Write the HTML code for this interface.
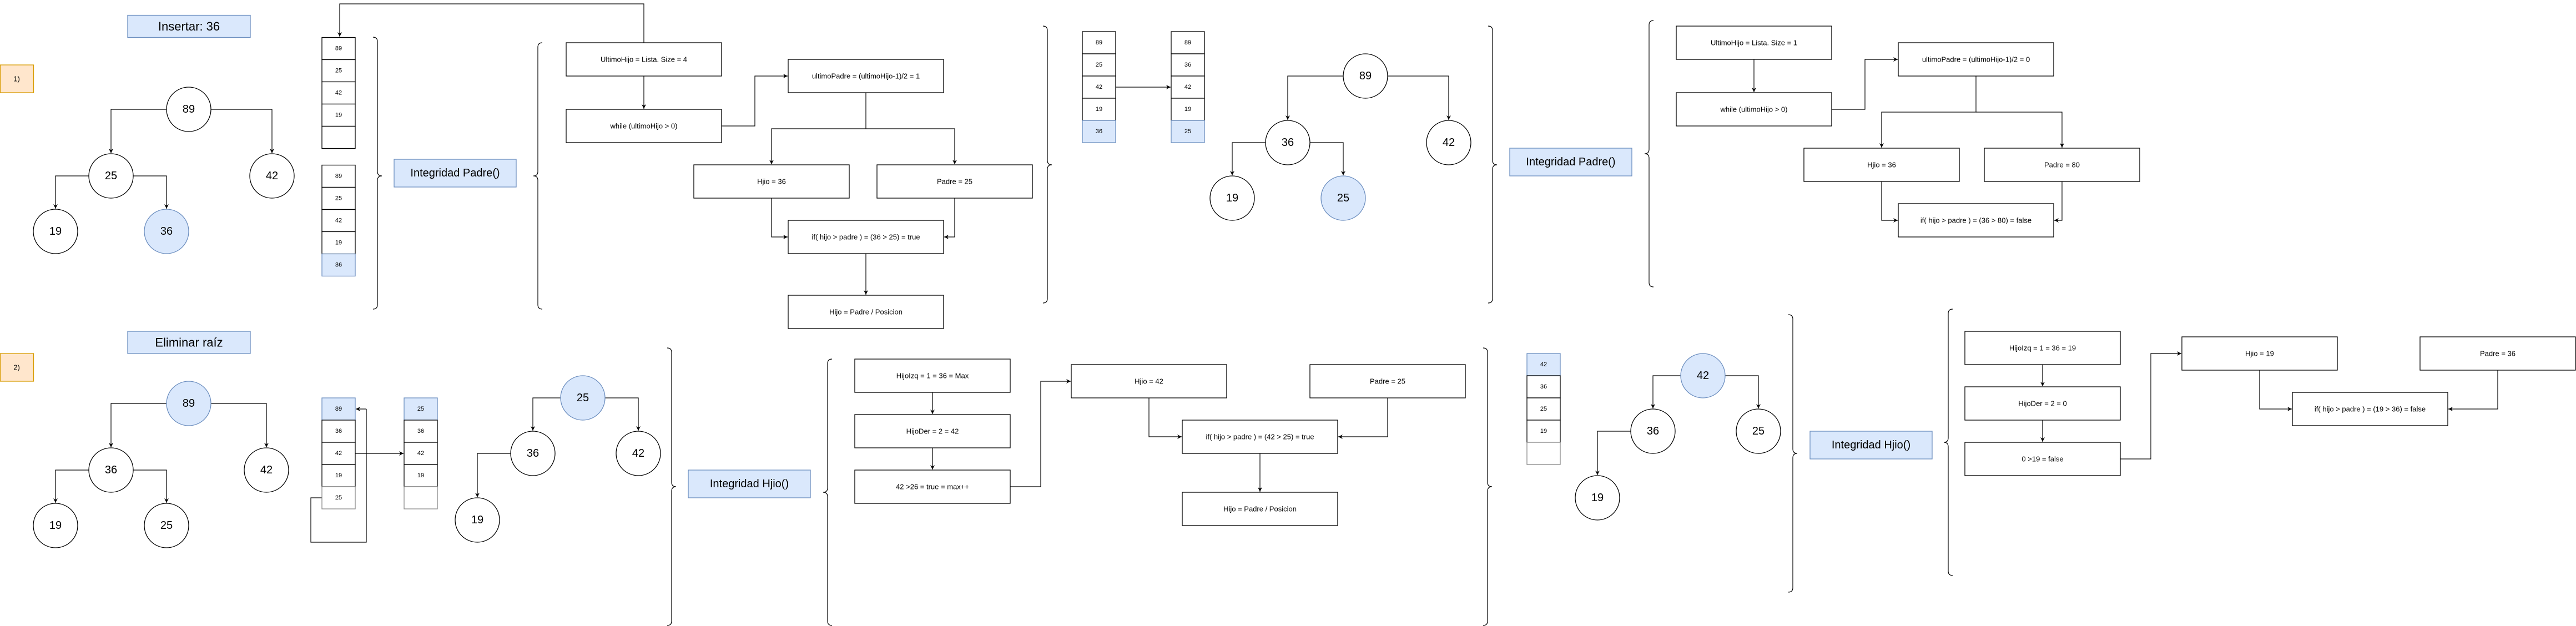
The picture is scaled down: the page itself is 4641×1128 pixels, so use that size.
<!DOCTYPE html>
<html><head><meta charset="utf-8"><style>
html,body{margin:0;padding:0;background:#fff;}
svg{display:block;font-family:"Liberation Sans",Arial,sans-serif;}
.b{fill:#fff;stroke:#000;stroke-width:1.3}
.bl{fill:#dae8fc;stroke:#6c8ebf;stroke-width:1.3}
.or{fill:#ffe6cc;stroke:#d79b00;stroke-width:1.3}
.gy{fill:#fff;stroke:#888;stroke-width:1.3}
.e{fill:none;stroke:#000;stroke-width:1.2}
.a{fill:none;stroke:#000;stroke-width:1.2;marker-end:url(#ar)}
.br{fill:none;stroke:#000;stroke-width:1.2}
text{text-anchor:middle;dominant-baseline:central;fill:#000}
.t13{font-size:13px}.t11{font-size:11px}.t20{font-size:20px}.t22{font-size:22px}
</style></head><body>
<svg width="4641" height="1128" viewBox="0 0 4641 1128" xmlns="http://www.w3.org/2000/svg">
<defs><marker id="ar" markerWidth="10" markerHeight="10" refX="8" refY="4" orient="auto" markerUnits="userSpaceOnUse"><path d="M0,0 L8,4 L0,8 L2.5,4 Z" fill="#000"/></marker></defs>

<!-- ===== TOP ===== -->
<rect class="bl" x="230" y="27.5" width="221" height="40"/><text class="t22" x="340.5" y="47.5">Insertar: 36</text>
<rect class="or" x="0.5" y="117" width="60" height="50"/><text class="t13" x="30" y="142">1)</text>

<path class="a" d="M300,197 H200 V276"/><path class="a" d="M380,197 H490 V276"/>
<path class="a" d="M160,317 H100 V376"/><path class="a" d="M240,317 H300 V376"/>
<circle class="b" cx="340" cy="197" r="40"/><text class="t20" x="340" y="197">89</text>
<circle class="b" cx="200" cy="317" r="40"/><text class="t20" x="200" y="317">25</text>
<circle class="b" cx="490" cy="317" r="40"/><text class="t20" x="490" y="317">42</text>
<circle class="b" cx="100" cy="417" r="40"/><text class="t20" x="100" y="417">19</text>
<circle class="bl" cx="300" cy="417" r="40"/><text class="t20" x="300" y="417">36</text>

<!-- array1 -->
<g>
<rect class="b" x="580" y="67.5" width="60" height="40"/><text class="t11" x="610" y="87.5">89</text>
<rect class="b" x="580" y="107.5" width="60" height="40"/><text class="t11" x="610" y="127.5">25</text>
<rect class="b" x="580" y="147.5" width="60" height="40"/><text class="t11" x="610" y="167.5">42</text>
<rect class="b" x="580" y="187.5" width="60" height="40"/><text class="t11" x="610" y="207.5">19</text>
<rect class="b" x="580" y="227.5" width="60" height="40"/>
</g>
<g>
<rect class="b" x="580" y="297.5" width="60" height="40"/><text class="t11" x="610" y="317.5">89</text>
<rect class="b" x="580" y="337.5" width="60" height="40"/><text class="t11" x="610" y="357.5">25</text>
<rect class="b" x="580" y="377.5" width="60" height="40"/><text class="t11" x="610" y="397.5">42</text>
<rect class="b" x="580" y="417.5" width="60" height="40"/><text class="t11" x="610" y="437.5">19</text>
<rect class="bl" x="580" y="457.5" width="60" height="40"/><text class="t11" x="610" y="477.5">36</text>
</g>
<path class="a" d="M1160,77 V7 H612 V66"/>

<path class="br" d="M672,67 Q680,67 680,75 L680,309 Q680,317 688,317 Q680,317 680,325 L680,549 Q680,557 672,557"/>
<rect class="bl" x="710" y="287" width="220" height="50"/><text class="t20" x="820" y="312">Integridad Padre()</text>
<path class="br" d="M977,77 Q969,77 969,85 L969,309 Q969,317 961,317 Q969,317 969,325 L969,549 Q969,557 977,557"/>

<rect class="b" x="1020" y="77" width="280" height="60"/><text class="t13" x="1160" y="107">UltimoHijo = Lista. Size = 4</text>
<rect class="b" x="1020" y="197" width="280" height="60"/><text class="t13" x="1160" y="227">while (ultimoHijo &gt; 0)</text>
<rect class="b" x="1420" y="107" width="280" height="60"/><text class="t13" x="1560" y="137">ultimoPadre = (ultimoHijo-1)/2 = 1</text>
<rect class="b" x="1250" y="297" width="280" height="60"/><text class="t13" x="1390" y="327">Hjio = 36</text>
<rect class="b" x="1580" y="297" width="280" height="60"/><text class="t13" x="1720" y="327">Padre = 25</text>
<rect class="b" x="1420" y="397" width="280" height="60"/><text class="t13" x="1560" y="427">if( hijo &gt; padre ) = (36 &gt; 25) = true</text>
<rect class="b" x="1420" y="532" width="280" height="60"/><text class="t13" x="1560" y="562">Hijo = Padre / Posicion</text>
<path class="a" d="M1160,137 V196"/><path class="a" d="M1300,227 H1360 V137 H1419"/>
<path class="a" d="M1560,167 V232 H1390 V296"/><path class="a" d="M1560,232 H1720 V296"/>
<path class="a" d="M1390,357 V427 H1419"/><path class="a" d="M1720,357 V427 H1701"/>
<path class="a" d="M1560,457 V531"/>

<path class="br" d="M1879,47 Q1887,47 1887,55 L1887,289 Q1887,297 1895,297 Q1887,297 1887,305 L1887,538 Q1887,546 1879,546"/>

<g>
<rect class="b" x="1950" y="57" width="60" height="40"/><text class="t11" x="1980" y="77">89</text>
<rect class="b" x="1950" y="97" width="60" height="40"/><text class="t11" x="1980" y="117">25</text>
<rect class="b" x="1950" y="137" width="60" height="40"/><text class="t11" x="1980" y="157">42</text>
<rect class="b" x="1950" y="177" width="60" height="40"/><text class="t11" x="1980" y="197">19</text>
<rect class="bl" x="1950" y="217" width="60" height="40"/><text class="t11" x="1980" y="237">36</text>
<rect class="b" x="2110" y="57" width="60" height="40"/><text class="t11" x="2140" y="77">89</text>
<rect class="b" x="2110" y="97" width="60" height="40"/><text class="t11" x="2140" y="117">36</text>
<rect class="b" x="2110" y="137" width="60" height="40"/><text class="t11" x="2140" y="157">42</text>
<rect class="b" x="2110" y="177" width="60" height="40"/><text class="t11" x="2140" y="197">19</text>
<rect class="bl" x="2110" y="217" width="60" height="40"/><text class="t11" x="2140" y="237">25</text>
</g>
<path class="a" d="M2010,157 H2109"/>

<path class="a" d="M2420,137 H2320 V216"/><path class="a" d="M2500,137 H2610 V216"/>
<path class="a" d="M2280,257 H2220 V316"/><path class="a" d="M2360,257 H2420 V316"/>
<circle class="b" cx="2460" cy="137" r="40"/><text class="t20" x="2460" y="137">89</text>
<circle class="b" cx="2320" cy="257" r="40"/><text class="t20" x="2320" y="257">36</text>
<circle class="b" cx="2610" cy="257" r="40"/><text class="t20" x="2610" y="257">42</text>
<circle class="b" cx="2220" cy="357" r="40"/><text class="t20" x="2220" y="357">19</text>
<circle class="bl" cx="2420" cy="357" r="40"/><text class="t20" x="2420" y="357">25</text>

<path class="br" d="M2681,47 Q2689,47 2689,55 L2689,289 Q2689,297 2697,297 Q2689,297 2689,305 L2689,538 Q2689,546 2681,546"/>
<rect class="bl" x="2720" y="267" width="220" height="50"/><text class="t20" x="2830" y="292">Integridad Padre()</text>
<path class="br" d="M2979,37 Q2971,37 2971,45 L2971,269 Q2971,277 2963,277 Q2971,277 2971,285 L2971,509 Q2971,517 2979,517"/>

<rect class="b" x="3020" y="47" width="280" height="60"/><text class="t13" x="3160" y="77">UltimoHijo = Lista. Size = 1</text>
<rect class="b" x="3020" y="167" width="280" height="60"/><text class="t13" x="3160" y="197">while (ultimoHijo &gt; 0)</text>
<rect class="b" x="3420" y="77" width="280" height="60"/><text class="t13" x="3560" y="107">ultimoPadre = (ultimoHijo-1)/2 = 0</text>
<rect class="b" x="3250" y="267" width="280" height="60"/><text class="t13" x="3390" y="297">Hjio = 36</text>
<rect class="b" x="3575" y="267" width="280" height="60"/><text class="t13" x="3715" y="297">Padre = 80</text>
<rect class="b" x="3420" y="367" width="280" height="60"/><text class="t13" x="3560" y="397">if( hijo &gt; padre ) = (36 &gt; 80) = false</text>
<path class="a" d="M3160,107 V166"/><path class="a" d="M3300,197 H3360 V107 H3419"/>
<path class="a" d="M3560,137 V202 H3390 V266"/><path class="a" d="M3560,202 H3715 V266"/>
<path class="a" d="M3390,327 V397 H3419"/><path class="a" d="M3715,327 V397 H3701"/>

<!-- ===== BOTTOM ===== -->
<rect class="bl" x="230" y="597" width="221" height="40"/><text class="t22" x="340.5" y="617">Eliminar raíz</text>
<rect class="or" x="0.5" y="637" width="60" height="50"/><text class="t13" x="30" y="662">2)</text>

<path class="a" d="M300,727 H200 V806"/><path class="a" d="M380,727 H480 V806"/>
<path class="a" d="M160,847 H100 V906"/><path class="a" d="M240,847 H300 V906"/>
<circle class="bl" cx="340" cy="727" r="40"/><text class="t20" x="340" y="727">89</text>
<circle class="b" cx="200" cy="847" r="40"/><text class="t20" x="200" y="847">36</text>
<circle class="b" cx="480" cy="847" r="40"/><text class="t20" x="480" y="847">42</text>
<circle class="b" cx="100" cy="947" r="40"/><text class="t20" x="100" y="947">19</text>
<circle class="b" cx="300" cy="947" r="40"/><text class="t20" x="300" y="947">25</text>

<path class="e" d="M580,897 H560 V977 H660 V737"/><path class="a" d="M660,737 H641"/>
<g>
<rect class="bl" x="580" y="717" width="60" height="40"/><text class="t11" x="610" y="737">89</text>
<rect class="b" x="580" y="757" width="60" height="40"/><text class="t11" x="610" y="777">36</text>
<rect class="b" x="580" y="797" width="60" height="40"/><text class="t11" x="610" y="817">42</text>
<rect class="b" x="580" y="837" width="60" height="40"/><text class="t11" x="610" y="857">19</text>
<rect class="gy" x="580" y="877" width="60" height="40"/><text class="t11" x="610" y="897">25</text>
<rect class="bl" x="728" y="717" width="60" height="40"/><text class="t11" x="758" y="737">25</text>
<rect class="b" x="728" y="757" width="60" height="40"/><text class="t11" x="758" y="777">36</text>
<rect class="b" x="728" y="797" width="60" height="40"/><text class="t11" x="758" y="817">42</text>
<rect class="b" x="728" y="837" width="60" height="40"/><text class="t11" x="758" y="857">19</text>
<rect class="gy" x="728" y="877" width="60" height="40"/>
</g>
<path class="a" d="M640,817 H727"/>

<path class="a" d="M1010,717 H960 V776"/><path class="a" d="M1090,717 H1150 V776"/>
<path class="a" d="M920,817 H860 V896"/>
<circle class="bl" cx="1050" cy="717" r="40"/><text class="t20" x="1050" y="717">25</text>
<circle class="b" cx="960" cy="817" r="40"/><text class="t20" x="960" y="817">36</text>
<circle class="b" cx="1150" cy="817" r="40"/><text class="t20" x="1150" y="817">42</text>
<circle class="b" cx="860" cy="937" r="40"/><text class="t20" x="860" y="937">19</text>

<path class="br" d="M1202,627 Q1210,627 1210,635 L1210,869 Q1210,877 1218,877 Q1210,877 1210,885 L1210,1119 Q1210,1127 1202,1127"/>
<rect class="bl" x="1240" y="847" width="220" height="50"/><text class="t20" x="1350" y="872">Integridad Hjio()</text>
<path class="br" d="M1499,647 Q1491,647 1491,655 L1491,879 Q1491,887 1483,887 Q1491,887 1491,895 L1491,1119 Q1491,1127 1499,1127"/>

<rect class="b" x="1540" y="647" width="280" height="60"/><text class="t13" x="1680" y="677">HijoIzq = 1 = 36 = Max</text>
<rect class="b" x="1540" y="747" width="280" height="60"/><text class="t13" x="1680" y="777">HijoDer = 2 = 42</text>
<rect class="b" x="1540" y="847" width="280" height="60"/><text class="t13" x="1680" y="877">42 &gt;26 = true = max++</text>
<rect class="b" x="1930" y="657" width="280" height="60"/><text class="t13" x="2070" y="687">Hjio = 42</text>
<rect class="b" x="2360" y="657" width="280" height="60"/><text class="t13" x="2500" y="687">Padre = 25</text>
<rect class="b" x="2130" y="757" width="280" height="60"/><text class="t13" x="2270" y="787">if( hijo &gt; padre ) = (42 &gt; 25) = true</text>
<rect class="b" x="2130" y="887" width="280" height="60"/><text class="t13" x="2270" y="917">Hijo = Padre / Posicion</text>
<path class="a" d="M1680,707 V746"/><path class="a" d="M1680,807 V846"/>
<path class="a" d="M1820,877 H1875 V687 H1929"/>
<path class="a" d="M2070,717 V787 H2129"/><path class="a" d="M2500,717 V787 H2411"/>
<path class="a" d="M2270,817 V886"/>

<path class="br" d="M2672,627 Q2680,627 2680,635 L2680,869 Q2680,877 2688,877 Q2680,877 2680,885 L2680,1119 Q2680,1127 2672,1127"/>

<g>
<rect class="bl" x="2751" y="637" width="60" height="40"/><text class="t11" x="2781" y="657">42</text>
<rect class="b" x="2751" y="677" width="60" height="40"/><text class="t11" x="2781" y="697">36</text>
<rect class="b" x="2751" y="717" width="60" height="40"/><text class="t11" x="2781" y="737">25</text>
<rect class="b" x="2751" y="757" width="60" height="40"/><text class="t11" x="2781" y="777">19</text>
<rect class="gy" x="2751" y="797" width="60" height="40"/>
</g>

<path class="a" d="M3028,677 H2978 V736"/><path class="a" d="M3108,677 H3168 V736"/>
<path class="a" d="M2938,777 H2878 V856"/>
<circle class="bl" cx="3068" cy="677" r="40"/><text class="t20" x="3068" y="677">42</text>
<circle class="b" cx="2978" cy="777" r="40"/><text class="t20" x="2978" y="777">36</text>
<circle class="b" cx="3168" cy="777" r="40"/><text class="t20" x="3168" y="777">25</text>
<circle class="b" cx="2878" cy="897" r="40"/><text class="t20" x="2878" y="897">19</text>

<path class="br" d="M3222,567 Q3230,567 3230,575 L3230,809 Q3230,817 3238,817 Q3230,817 3230,825 L3230,1059 Q3230,1067 3222,1067"/>
<rect class="bl" x="3261" y="777" width="220" height="50"/><text class="t20" x="3371" y="802">Integridad Hjio()</text>
<path class="br" d="M3518,557 Q3510,557 3510,565 L3510,789 Q3510,797 3502,797 Q3510,797 3510,805 L3510,1029 Q3510,1037 3518,1037"/>

<rect class="b" x="3540" y="597" width="280" height="60"/><text class="t13" x="3680" y="627">HijoIzq = 1 = 36 = 19</text>
<rect class="b" x="3540" y="697" width="280" height="60"/><text class="t13" x="3680" y="727">HijoDer = 2 = 0</text>
<rect class="b" x="3540" y="797" width="280" height="60"/><text class="t13" x="3680" y="827">0 &gt;19 = false</text>
<rect class="b" x="3931" y="607" width="280" height="60"/><text class="t13" x="4071" y="637">Hjio = 19</text>
<rect class="b" x="4360" y="607" width="280" height="60"/><text class="t13" x="4500" y="637">Padre = 36</text>
<rect class="b" x="4130" y="707" width="280" height="60"/><text class="t13" x="4270" y="737">if( hijo &gt; padre ) = (19 &gt; 36) = false</text>
<path class="a" d="M3680,657 V696"/><path class="a" d="M3680,757 V796"/>
<path class="a" d="M3820,827 H3875 V637 H3930"/>
<path class="a" d="M4071,667 V737 H4129"/><path class="a" d="M4500,667 V737 H4411"/>
</svg>
</body></html>
